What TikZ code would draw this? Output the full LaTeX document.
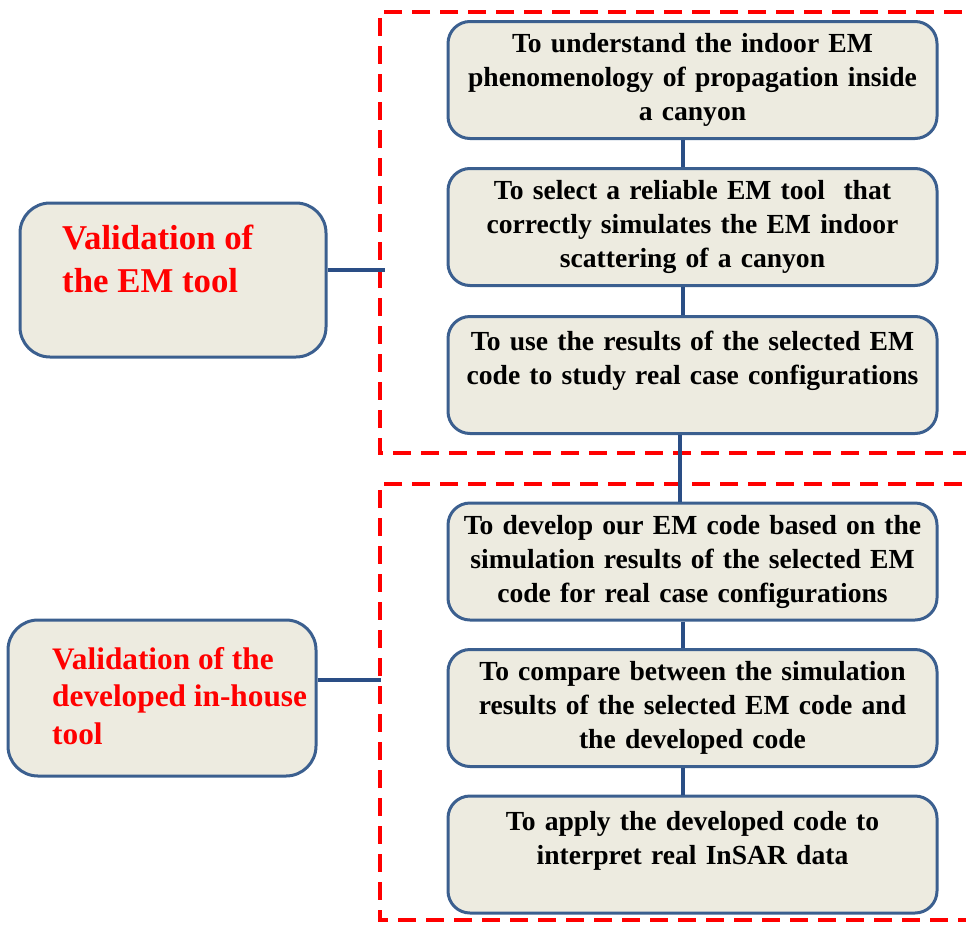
\documentclass[tikz,border=0pt]{standalone}
\usepackage{fontspec}
\setmainfont{Liberation Serif}
\usetikzlibrary{calc}
\definecolor{boxfill}{HTML}{EDEBE0}
\definecolor{boxline}{HTML}{3B5F8F}
\definecolor{linkblue}{HTML}{2A4E85}
\definecolor{grouped}{HTML}{FF0000}
\definecolor{goalred}{HTML}{FF0000}
\begin{document}
\begin{tikzpicture}[x=1pt,y=-1pt,
  stepbox/.style={draw=boxline, line width=3pt, fill=boxfill,
    rounded corners=22pt, minimum width=489pt, minimum height=117pt,
    text width=480pt, align=center, inner sep=0pt,
    font=\fontsize{27.6}{34}\selectfont\bfseries},
  goalbox/.style={draw=boxline, line width=3pt, fill=boxfill,
    rounded corners=30pt, inner sep=0pt},
  goaltext/.style={anchor=north west, align=left, inner sep=0pt,
    text=goalred, font=\bfseries},
  link/.style={draw=linkblue, line width=4pt},
  group/.style={draw=grouped, line width=4pt, dash pattern=on 18pt off 10pt}]

\useasboundingbox (0,0) rectangle (966,924);

% dashed group frames, open to the right
\draw[group] (990,12) -| (380,453) -- (990,453);
\draw[group] (990,484) -| (380,920) -- (990,920);

% step boxes
\node[stepbox] (s1) at (692.5,80)
  {To understand the indoor EM\\ phenomenology of propagation inside\\ a canyon};
\node[stepbox] (s2) at (692.5,227)
  {To select a reliable EM tool\ \ that\\ correctly simulates the EM indoor\\ scattering of a canyon};
\node[stepbox] (s3) at (692.5,375)
  {To use the results of the selected EM\\ code to study real case configurations\\ \mbox{}};
\node[stepbox] (s4) at (692.5,561.5)
  {To develop our EM code based on the\\ simulation results of the selected EM\\ code for real case configurations};
\node[stepbox] (s5) at (692.5,708)
  {To compare between the simulation\\ results of the selected EM code and\\ the developed code};
\node[stepbox] (s6) at (692.5,854.5)
  {To apply the developed code to\\ interpret real InSAR data\\ \mbox{}};

% goal boxes on the left
\node[goalbox, minimum width=306pt, minimum height=154pt] (goalA) at (173,280) {};
\node[goaltext, font=\fontsize{34.8}{43}\selectfont\bfseries] (goalAtxt) at (62,225)
  {Validation of\\ the EM tool};
\node[goalbox, minimum width=308pt, minimum height=156pt] (goalB) at (162,698) {};
\node[goaltext, font=\fontsize{31.3}{37.5}\selectfont\bfseries] (goalBtxt) at (52,647)
  {Validation of the\\ developed in-house\\ tool};

% connectors
\coordinate (spine) at (683,0);
\coordinate (spineB) at (680,0);
\coordinate (tapA) at (385,270);
\coordinate (tapB) at (381,680);
\draw[link] (s1.south -| spine) -- (s2.north -| spine);
\draw[link] (s2.south -| spine) -- (s3.north -| spine);
\draw[link] (s3.south -| spineB) -- (s4.north -| spineB);
\draw[link] (s4.south -| spine) -- (s5.north -| spine);
\draw[link] (s5.south -| spine) -- (s6.north -| spine);
\draw[link] (goalA.east |- tapA) -- (tapA);
\draw[link] (goalB.east |- tapB) -- (tapB);
\end{tikzpicture}
\end{document}
